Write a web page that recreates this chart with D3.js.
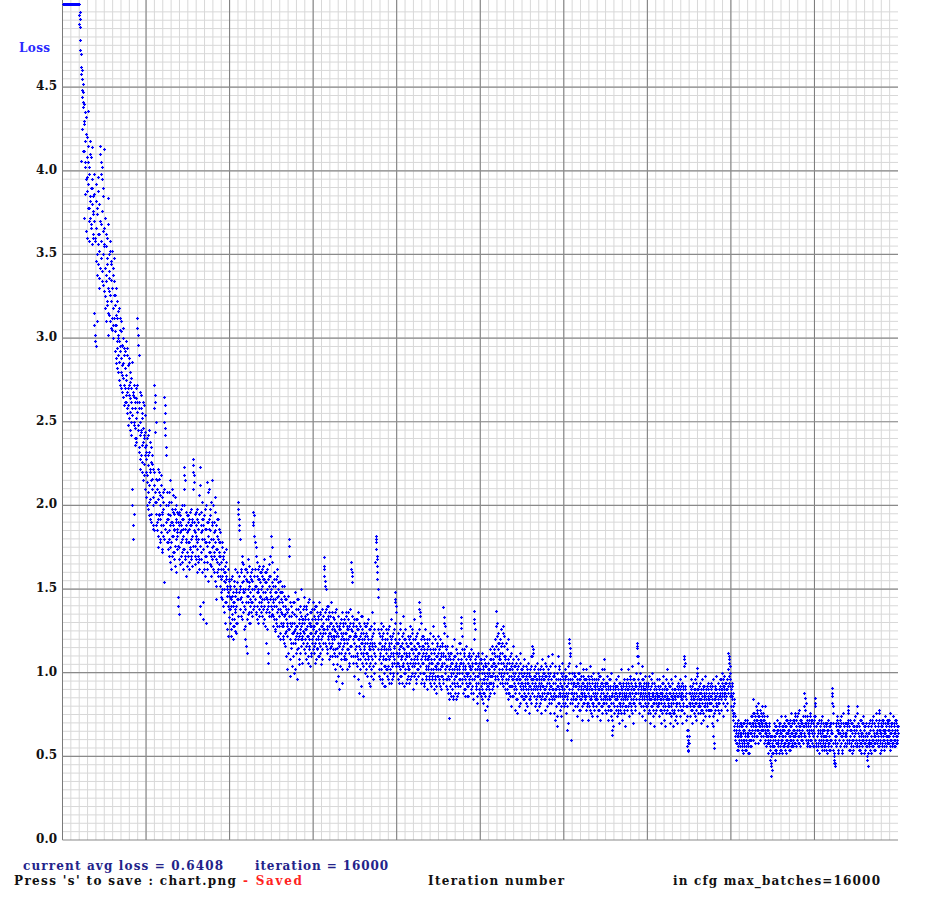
<!DOCTYPE html>
<html><head><meta charset="utf-8">
<script src="https://cdn.jsdelivr.net/npm/d3@7"></script>
<style>html,body{margin:0;padding:0;background:#fff;}svg{display:block;}</style>
</head><body>
<svg id="chart" width="927" height="908"></svg>
<script>
// readings every 8 iterations (lossBlockN) and the ones in between, offset by 4 (lossMidN)
const iterStep = 8, midOffset = 4;
const lossBlock1 = [ // iterations 0 - 1592
9.62,9.41,8.87,9.03,8.55,8.31,8.46,7.92,7.78,7.95,7.41,7.25,7.38,6.94,6.82,7.01,6.63,6.57,6.72,6.31,6.24,6.38,6.05,5.96,6.12,
5.88,5.74,5.91,5.62,5.48,5.55,5.33,5.41,5.22,5.28,5.15,5.19,5.08,5.11,5.03,4.93,4.91,4.78,4.86,4.70,4.62,4.55,4.48,4.52,4.38,
4.41,4.12,4.30,4.02,4.35,4.18,3.95,4.22,4.08,3.88,4.15,3.92,4.05,3.78,3.98,3.85,4.10,3.72,3.90,3.68,3.95,3.80,3.62,3.85,3.74,
3.70,3.15,3.58,3.02,3.82,2.95,3.66,3.50,3.78,3.44,3.62,3.88,3.52,3.36,3.70,4.15,3.48,4.05,3.58,3.95,3.40,3.64,3.85,3.32,3.55,
4.13,3.42,3.25,3.55,3.38,3.62,3.20,3.48,3.30,3.84,3.15,3.40,3.28,3.52,3.10,3.35,3.22,3.46,3.05,3.30,3.18,3.42,3.00,3.26,3.12,
3.20,2.92,3.08,2.85,3.30,2.98,3.12,2.80,3.02,2.90,3.18,2.75,2.95,3.05,2.70,2.88,3.10,2.78,2.95,2.65,2.85,3.00,2.72,2.90,2.62,
2.82,2.98,2.66,2.75,2.55,2.90,2.70,2.60,2.85,2.52,2.72,2.45,2.80,2.62,2.50,2.76,2.58,2.10,1.80,2.68,1.95,2.48,2.65,2.40,2.58,
2.52,2.70,2.38,2.62,3.12,2.45,3.02,2.90,2.35,2.58,2.28,2.50,2.66,2.30,2.45,2.20,2.55,2.38,2.15,2.42,2.60,2.25,2.35,2.10,2.32];
const lossMid1 = [
9.71,9.22,9.35,8.64,8.72,8.18,8.25,7.84,7.60,7.66,7.32,7.48,7.08,7.15,6.88,6.70,6.78,6.45,6.52,6.36,6.18,6.27,5.99,6.08,5.92,
5.81,5.86,5.66,5.52,5.59,5.39,5.36,5.27,5.31,5.18,5.12,5.09,5.06,5.04,5.01,4.88,4.95,4.72,4.06,4.58,4.25,4.44,4.60,4.12,4.47,
4.28,3.72,4.40,3.86,4.05,3.64,4.32,3.96,3.60,4.20,3.78,4.36,3.70,4.02,3.58,4.18,3.82,3.66,4.08,3.56,3.90,4.14,3.60,3.76,3.98,
3.86,3.08,3.60,2.98,3.92,3.46,3.10,3.74,3.38,3.96,3.56,3.30,3.80,3.62,3.42,4.10,3.68,3.98,3.34,4.02,3.76,3.50,3.90,3.28,3.66,
3.56,3.18,3.72,3.34,3.10,3.60,3.44,3.22,3.68,3.02,3.50,3.36,3.14,3.58,3.26,3.06,3.44,3.30,3.52,3.12,3.38,3.08,3.34,3.48,3.04,
3.08,3.26,2.88,3.14,2.94,3.22,2.82,3.00,3.16,2.86,2.98,2.72,3.12,2.92,2.80,3.04,2.68,2.96,2.84,3.06,2.76,2.60,2.94,2.82,2.70,
2.92,2.62,2.78,2.94,2.58,2.68,2.84,2.48,2.66,2.88,2.56,2.74,2.64,2.42,2.70,2.86,2.54,2.00,2.66,1.88,2.50,2.72,2.36,2.62,2.46,
2.64,2.40,2.56,3.06,2.72,2.96,2.48,2.32,2.62,2.42,2.68,2.22,2.44,2.58,2.36,2.52,2.26,2.46,2.62,2.18,2.40,2.54,2.30,2.44,2.20];
const lossBlock2 = [ // iterations 1600 - 3192
2.28,2.05,2.40,2.18,1.98,2.30,2.12,2.45,2.02,2.22,1.92,2.15,2.35,1.95,2.10,2.25,1.88,2.05,2.20,1.85,2.72,2.62,2.08,2.50,1.95,
2.02,1.85,2.15,1.92,1.75,2.08,1.95,2.20,1.80,2.00,1.88,2.12,1.72,1.95,2.05,1.82,1.98,1.54,2.10,2.65,2.55,2.42,1.90,2.35,1.78,
1.92,2.08,1.78,1.95,1.70,2.02,1.85,2.15,1.75,1.90,1.62,1.98,1.82,2.10,1.72,1.88,1.95,1.68,1.85,2.05,1.76,1.92,1.60,1.84,1.96,
1.82,1.95,1.45,1.88,1.35,1.75,1.90,1.65,1.85,1.98,1.72,1.80,1.92,1.62,1.86,1.74,2.00,2.23,1.68,2.15,1.80,1.58,1.84,1.94,1.72,
1.85,1.70,1.92,1.78,1.62,1.88,1.75,1.98,1.68,1.82,1.90,1.72,2.28,2.20,1.85,2.14,1.76,1.95,1.65,1.80,1.88,1.60,1.78,1.92,1.70,
1.80,1.95,1.68,2.23,2.12,1.35,1.88,1.72,2.02,1.60,1.85,1.42,1.92,1.62,1.80,1.98,1.70,1.86,1.30,1.78,1.90,1.66,2.14,1.82,1.55,
1.78,1.92,1.65,1.85,1.98,1.70,1.58,1.88,1.75,2.15,1.62,1.80,1.72,1.90,1.55,2.05,1.85,1.44,1.68,1.82,1.60,1.74,1.92,1.58,1.70,
1.65,1.78,1.52,1.70,1.45,1.62,1.75,1.50,1.58,1.40,1.68,1.55,1.72,1.42,1.60,1.30,1.56,1.66,1.46,1.52,1.22,1.62,1.48,1.33,1.55];
const lossMid2 = [
2.36,2.14,2.00,2.42,2.24,2.08,2.32,1.94,2.20,2.38,2.04,2.26,1.90,2.16,2.30,2.00,2.22,1.86,2.12,2.58,2.66,2.02,2.44,2.16,1.88,
2.10,1.90,2.22,1.82,2.04,1.94,2.16,1.78,2.06,1.92,1.84,2.18,1.96,1.74,2.08,1.88,2.02,1.80,2.50,2.60,2.46,1.86,2.30,2.00,1.84,
1.84,2.00,1.74,1.92,2.08,1.80,1.94,1.66,1.88,2.02,1.78,1.90,1.70,1.96,1.82,2.06,1.72,1.86,1.98,1.64,1.90,1.80,2.00,1.74,1.86,
1.40,1.90,1.76,1.96,1.68,1.84,1.94,1.70,1.88,1.78,2.00,1.66,1.82,1.92,1.74,2.18,2.10,1.86,1.70,1.96,1.78,1.88,1.64,1.84,1.90,
1.78,1.94,1.66,1.86,1.74,1.96,1.70,1.88,1.80,1.64,1.92,2.24,2.10,1.76,2.18,1.90,1.70,1.84,1.96,1.68,1.82,1.74,1.98,1.66,1.86,
1.90,1.62,2.06,1.76,1.40,1.84,1.96,1.68,1.80,1.92,1.32,1.74,1.88,1.66,1.94,1.78,1.58,1.86,1.70,2.00,1.76,1.62,1.90,2.08,1.72,
1.86,2.10,1.72,1.94,1.64,2.02,1.80,1.68,1.90,1.76,2.00,1.60,1.84,1.70,1.96,1.78,1.52,1.88,1.74,1.66,1.92,1.80,1.62,1.78,1.86,
1.72,1.58,1.84,1.48,1.66,1.56,1.78,1.44,1.62,1.70,1.50,1.60,1.36,1.64,1.54,1.74,1.42,1.58,1.26,1.50,1.62,1.40,1.56,1.46,1.38];
const lossBlock3 = [ // iterations 3200 - 4792
1.45,1.30,1.52,1.22,1.40,1.58,1.35,1.48,1.28,1.42,1.55,1.32,1.46,1.25,1.38,1.50,1.30,1.44,1.60,1.34,2.02,1.95,1.48,1.85,1.80,
1.52,1.38,1.62,1.45,1.70,1.32,1.55,1.48,1.65,1.40,1.58,1.28,1.50,1.20,1.62,1.42,1.12,1.55,1.35,1.68,1.46,1.30,1.52,1.40,1.58,
1.48,1.36,1.60,1.42,1.55,1.96,1.38,1.90,1.50,1.82,1.44,1.62,1.75,1.35,1.52,1.66,1.40,1.56,1.30,1.48,1.64,1.38,1.54,1.45,1.60,
1.50,1.36,1.62,1.44,1.56,1.30,1.48,1.68,1.40,1.54,1.28,1.45,1.60,1.18,1.50,1.38,1.06,1.56,1.42,1.65,1.34,1.48,1.58,1.82,1.40,
1.46,1.75,1.35,1.52,1.28,1.44,1.60,1.32,1.48,1.25,1.40,1.56,1.30,1.45,1.62,1.22,1.38,1.50,1.28,1.42,1.55,1.20,1.36,1.48,1.30,
1.35,1.48,1.22,1.40,1.28,1.52,1.18,1.35,1.44,1.25,1.38,1.10,1.30,1.02,1.46,1.26,1.80,1.70,1.34,1.20,0.98,1.40,1.28,1.15,1.36,
1.30,1.18,1.42,1.25,1.00,1.35,1.20,1.48,1.28,1.12,1.38,0.96,1.24,1.44,1.15,1.32,1.22,1.05,1.40,1.26,1.16,1.34,1.50,1.20,1.30,
1.25,1.38,1.14,1.30,1.45,1.20,1.32,1.08,1.26,1.40,1.18,1.35,1.22,1.10,1.30,1.44,1.16,1.28,1.04,1.36,1.24,1.12,1.32,1.20,1.42];
const lossMid3 = [
1.38,1.50,1.26,1.44,1.56,1.32,1.46,1.20,1.40,1.52,1.28,1.42,1.62,1.36,1.48,1.24,1.40,1.54,1.30,1.44,1.98,1.88,1.58,1.92,1.50,
1.44,1.60,1.34,1.54,1.42,1.66,1.36,1.50,1.58,1.26,1.48,1.62,1.38,1.56,1.16,1.46,1.60,1.32,1.50,1.42,1.64,1.36,1.54,1.44,1.30,
1.56,1.42,1.62,1.34,1.50,1.88,1.46,1.94,1.58,1.40,1.78,1.52,1.36,1.70,1.48,1.58,1.32,1.50,1.62,1.42,1.56,1.34,1.46,1.60,1.40,
1.42,1.58,1.34,1.52,1.64,1.38,1.56,1.44,1.32,1.60,1.48,1.36,1.54,1.26,1.44,1.62,1.12,1.40,1.52,1.36,1.58,1.44,1.70,1.50,1.34,
1.54,1.38,1.66,1.42,1.34,1.56,1.40,1.26,1.52,1.44,1.32,1.48,1.58,1.36,1.28,1.46,1.54,1.34,1.42,1.24,1.48,1.38,1.30,1.44,1.52,
1.28,1.42,1.30,1.20,1.46,1.34,1.24,1.40,1.16,1.32,1.44,1.22,1.36,1.28,1.12,1.38,1.76,1.26,1.08,1.30,1.42,1.18,1.34,1.24,1.04,
1.36,1.24,1.10,1.30,1.42,1.18,1.26,1.02,1.34,1.22,1.44,1.14,1.28,1.20,1.38,1.08,1.30,1.24,1.12,1.36,1.20,1.28,1.06,1.32,1.22,
1.32,1.18,1.40,1.24,1.12,1.34,1.26,1.16,1.38,1.22,1.28,1.06,1.32,1.42,1.20,1.14,1.36,1.24,1.30,1.10,1.28,1.38,1.18,1.26,1.14];
const lossBlock4 = [ // iterations 4800 - 6392
1.22,1.34,1.12,1.28,1.40,1.18,1.30,1.08,1.25,1.36,1.15,1.32,1.20,1.42,1.10,1.26,1.35,1.16,1.28,1.05,1.22,1.38,1.14,1.30,1.24,
1.26,1.69,1.62,1.18,1.55,1.50,1.32,1.12,1.28,1.40,1.20,1.34,1.08,1.24,1.36,1.15,1.30,1.22,1.42,1.10,1.26,1.18,1.33,1.05,1.22,
1.20,1.32,1.10,1.25,0.95,1.38,1.15,1.28,1.05,1.22,1.34,1.12,1.26,0.90,1.18,1.30,1.08,1.24,1.36,1.14,1.02,1.28,1.20,1.10,1.32,
1.18,1.30,1.08,1.24,1.36,1.14,1.26,1.02,1.20,1.32,1.12,1.28,1.06,1.22,1.38,1.16,1.66,1.60,1.25,1.54,1.10,1.30,1.18,0.98,1.24,
1.22,1.10,1.32,1.16,1.04,1.26,1.12,1.36,1.08,1.20,0.88,1.28,1.14,1.02,1.24,1.18,1.34,1.06,1.20,0.86,1.12,1.30,1.16,1.00,1.22,
1.18,1.06,1.28,1.12,0.98,1.22,1.10,1.32,1.04,1.16,0.92,1.26,1.14,1.02,1.20,1.36,1.08,1.18,0.96,1.24,1.12,1.30,1.06,1.16,1.10,
1.82,1.78,1.70,1.64,1.56,1.45,1.14,1.02,1.24,1.10,0.96,1.18,1.30,1.06,1.16,0.94,1.22,1.08,1.28,1.00,1.14,1.04,1.20,0.92,1.12,
1.08,1.20,0.98,1.14,1.26,1.04,1.16,0.94,1.10,1.22,1.02,1.18,1.32,1.06,0.96,1.12,1.24,1.00,1.15,1.08,1.48,1.42,1.20,1.36,1.04];
const lossMid4 = [
1.28,1.16,1.38,1.24,1.06,1.32,1.20,1.40,1.14,1.30,1.22,1.10,1.34,1.26,1.18,1.36,1.12,1.24,1.32,1.20,1.08,1.28,1.34,1.18,1.26,
1.64,1.58,1.36,1.52,1.24,1.16,1.38,1.26,1.14,1.32,1.22,1.40,1.18,1.28,1.10,1.34,1.24,1.16,1.30,1.20,1.36,1.14,1.28,1.22,1.12,
1.26,1.14,1.36,1.02,1.22,1.30,1.10,1.24,1.34,0.98,1.18,1.28,1.16,1.04,1.26,1.20,1.32,1.12,1.22,0.94,1.16,1.30,1.24,1.08,1.20,
1.24,1.12,1.34,1.20,1.08,1.28,1.18,1.36,1.14,1.26,1.04,1.22,1.30,1.16,1.26,1.10,1.62,1.34,1.58,1.20,1.28,1.06,1.22,1.32,1.14,
1.14,1.28,1.06,1.22,1.32,1.10,1.20,0.96,1.26,1.16,1.30,1.08,1.22,1.12,1.34,0.92,1.18,1.26,1.10,1.24,1.04,1.20,1.14,1.28,1.08,
1.12,1.24,1.02,1.18,1.30,1.08,1.20,0.94,1.14,1.26,1.06,1.18,1.10,1.28,0.98,1.16,1.22,1.04,1.14,1.26,1.00,1.18,1.10,1.66,1.80,
1.80,1.74,1.68,1.60,1.50,1.26,1.08,1.18,0.98,1.22,1.12,1.02,1.26,1.14,0.96,1.20,1.10,1.24,1.04,1.16,0.92,1.18,1.08,1.26,1.02,
1.14,1.02,1.24,1.10,0.96,1.18,1.08,1.28,1.00,1.14,1.20,0.94,1.12,1.04,1.22,1.10,0.98,1.16,1.26,1.06,1.44,1.30,1.12,1.40,1.18];
const lossBlock5 = [ // iterations 6400 - 7992
1.12,1.00,1.24,1.06,1.18,0.94,1.14,1.30,1.02,1.16,1.08,0.98,1.22,1.10,1.34,1.04,1.15,0.92,1.20,1.08,1.26,1.00,1.12,1.18,0.96,
1.10,1.22,1.02,1.16,0.94,1.12,1.28,1.06,1.18,0.98,1.14,1.24,1.04,1.12,0.90,1.20,1.08,1.32,1.00,1.14,1.06,1.22,0.96,1.10,1.18,
1.06,1.18,0.98,1.12,1.42,1.36,1.04,1.30,1.14,0.94,1.10,1.22,1.00,1.16,1.06,0.92,1.20,1.08,1.26,0.98,1.12,1.02,1.18,0.90,1.08,
1.04,1.16,0.96,1.10,1.24,1.00,1.12,0.92,1.06,1.18,0.98,1.14,1.28,1.02,0.90,1.08,1.20,0.96,1.10,1.04,0.88,1.16,1.06,1.22,0.98,
1.02,1.14,0.94,1.08,1.20,0.98,1.10,0.90,1.04,1.16,0.96,1.12,1.39,1.33,1.06,1.28,1.00,0.92,1.14,1.04,1.22,0.96,1.08,0.88,1.10,
0.73,1.02,1.12,0.92,1.06,0.86,1.00,1.16,0.94,1.08,0.84,1.02,1.20,0.96,1.10,0.88,1.04,0.98,1.14,0.86,1.00,1.08,0.92,1.18,1.02,
1.00,1.12,0.92,1.06,1.33,1.27,0.96,1.22,1.04,0.88,1.10,0.98,1.14,0.90,1.02,1.08,0.94,1.16,0.86,1.00,1.10,0.92,1.04,0.96,1.12,
0.98,1.08,0.88,1.02,1.14,0.92,1.04,0.84,1.00,1.37,1.30,0.96,1.26,1.06,0.90,1.10,0.94,1.02,0.82,1.12,0.98,1.06,0.88,1.00,1.08];
const lossMid5 = [
1.06,1.18,1.10,0.96,1.20,1.04,1.12,1.26,0.98,1.10,1.16,1.04,0.94,1.18,1.06,1.24,1.12,1.00,1.14,1.02,1.20,1.10,0.94,1.16,1.06,
1.16,1.04,0.98,1.20,1.10,1.02,1.22,0.96,1.08,1.18,1.00,1.14,1.26,1.06,1.12,0.98,1.16,1.04,1.20,1.10,0.94,1.14,1.02,1.24,1.08,
1.12,1.02,1.26,1.38,1.16,1.34,1.00,1.20,1.08,1.16,0.96,1.06,1.22,1.12,1.00,1.14,0.94,1.10,1.18,1.04,0.96,1.14,1.08,1.20,1.02,
1.10,0.98,1.20,1.06,0.94,1.14,1.02,1.08,1.18,0.96,1.06,1.00,1.22,0.94,1.12,1.04,0.98,1.14,1.02,0.92,1.10,1.18,0.98,1.06,1.12,
1.08,0.96,1.16,1.02,0.92,1.12,1.04,0.98,1.18,1.06,0.94,1.10,1.30,1.24,1.16,1.02,1.10,0.96,1.08,1.16,0.90,1.04,1.12,0.98,0.84,
0.96,1.08,0.88,1.04,0.98,1.12,0.90,1.02,1.06,0.86,1.00,0.94,1.10,0.92,1.04,0.98,0.84,1.06,1.12,0.94,1.02,0.88,1.08,0.96,1.04,
1.06,0.96,1.18,1.30,1.08,1.00,1.14,0.94,1.02,1.06,0.90,1.12,0.96,1.04,0.86,1.00,1.08,0.98,0.92,1.06,1.00,0.86,1.10,0.94,1.02,
1.04,0.94,1.10,0.90,1.06,0.96,1.00,0.88,1.12,1.32,1.20,1.08,0.98,1.02,0.92,1.06,0.98,0.86,1.04,0.94,1.10,0.90,1.02,0.96,0.88];
const lossBlock6 = [ // iterations 8000 - 9592
0.96,1.06,0.86,1.00,1.12,0.90,1.02,0.82,0.96,1.08,0.88,1.04,0.78,0.94,1.10,0.92,1.00,0.72,0.98,1.06,0.86,1.02,0.90,1.14,0.94,
0.98,1.08,0.90,1.04,1.16,0.94,1.06,0.88,1.02,1.12,0.96,1.20,1.37,1.04,1.30,1.10,0.92,1.14,1.24,1.00,1.08,1.18,0.94,1.12,1.26,
1.06,0.96,1.18,1.02,1.28,0.92,1.10,1.00,1.22,0.94,1.08,0.88,1.04,1.14,0.90,1.00,1.20,0.84,0.98,1.06,0.88,1.02,0.92,1.12,0.80,
0.96,1.06,0.86,1.00,1.16,0.90,0.98,0.78,1.04,0.92,1.10,0.84,0.96,1.02,0.76,0.94,1.08,0.88,1.00,0.82,0.96,1.12,0.90,1.00,0.86,
0.94,1.02,0.84,0.98,1.08,0.88,0.96,0.78,0.92,1.04,0.86,1.00,0.80,0.94,1.06,0.90,0.98,0.76,0.92,1.02,0.84,0.96,1.10,0.88,0.94,
1.16,0.96,1.12,0.86,0.98,0.80,0.94,1.04,0.84,0.96,0.90,1.06,0.78,0.92,1.00,0.86,0.96,0.82,1.02,0.90,0.76,0.94,1.08,0.88,0.98,
0.92,1.02,0.84,0.96,0.78,0.90,1.06,0.86,0.98,0.80,0.94,1.00,0.88,1.10,0.82,0.94,0.76,0.92,1.04,0.86,0.96,1.11,0.84,0.98,0.90,
0.94,0.84,1.00,0.72,0.90,1.04,0.86,0.96,0.68,0.92,1.10,0.82,0.96,0.88,1.02,0.78,0.94,0.86,1.00,0.74,0.92,1.06,0.84,0.96,0.88];
const lossMid6 = [
1.02,0.92,1.08,0.94,0.84,1.04,0.96,0.88,1.00,0.94,1.06,0.86,0.98,0.90,1.04,0.80,0.96,1.02,0.92,0.84,1.00,0.94,1.08,0.88,0.98,
1.04,0.94,1.12,0.98,1.08,1.00,0.92,1.14,1.06,0.98,1.10,1.04,1.28,1.16,1.22,0.98,1.06,1.18,0.96,1.10,1.02,1.20,1.08,0.98,1.16,
1.00,1.12,0.94,1.24,1.06,0.98,1.16,1.04,0.90,1.10,0.96,1.02,1.18,0.94,1.06,0.88,1.08,0.96,1.02,0.92,1.10,0.86,0.98,1.04,0.92,
1.02,0.92,1.08,0.96,0.86,1.04,0.94,1.00,0.88,1.06,0.96,0.90,1.02,0.84,0.98,0.94,1.04,0.80,0.96,1.06,0.92,0.86,1.02,0.94,0.98,
0.98,0.90,1.04,0.92,0.84,1.00,0.94,0.86,0.98,0.90,0.82,0.96,1.02,0.88,0.94,0.84,1.00,0.92,0.86,0.98,0.90,1.04,0.82,0.96,1.10,
1.14,0.90,1.02,0.92,0.86,0.98,0.90,0.82,1.00,0.92,0.86,0.96,1.02,0.88,0.94,0.80,0.98,0.92,0.86,0.96,1.04,0.84,0.92,0.86,1.00,
0.96,0.88,1.00,0.90,0.84,0.98,0.92,1.04,0.86,0.94,0.88,0.96,1.02,0.90,0.84,0.98,0.88,1.00,0.92,0.82,0.96,1.06,0.90,0.94,0.86,
0.88,0.98,0.76,0.94,0.86,0.96,0.80,0.90,1.00,0.74,0.92,0.86,1.04,0.90,0.82,0.96,0.88,0.92,0.80,0.98,0.86,0.90,1.00,0.82,0.94];
const lossBlock7 = [ // iterations 9600 - 11192
0.90,0.80,0.98,0.86,1.02,0.76,0.92,0.84,0.66,0.96,0.88,1.04,1.20,0.90,1.15,1.10,0.82,0.94,0.60,0.88,1.00,0.78,0.92,0.84,0.98,
0.88,0.98,0.80,0.92,1.04,0.84,0.94,0.74,0.90,1.00,0.82,0.96,0.86,1.06,0.78,0.90,0.84,0.98,0.72,0.88,1.02,0.82,0.94,0.86,0.96,
0.86,0.96,0.78,0.90,1.02,0.82,0.92,0.72,0.88,0.98,0.80,0.94,0.84,1.04,0.76,0.90,0.86,0.96,0.74,0.88,1.00,0.82,0.92,0.78,0.94,
0.88,0.80,0.96,0.84,0.74,0.92,1.00,0.78,0.90,0.82,0.98,0.72,0.86,0.94,0.80,0.90,1.02,0.76,0.88,0.84,0.96,1.08,0.82,0.92,0.78,
0.86,0.94,0.76,0.88,0.98,0.80,0.90,0.72,0.84,0.96,0.78,0.92,0.82,1.00,0.74,0.63,0.86,0.68,0.90,0.80,0.94,0.76,0.88,0.84,0.96,
0.84,0.92,0.74,0.86,0.98,0.78,0.88,0.70,0.82,0.94,0.80,0.90,1.02,0.76,0.86,0.72,0.92,0.84,0.96,0.78,0.88,0.68,0.86,0.94,0.80,
0.86,0.96,0.78,0.90,1.02,0.82,0.92,0.74,0.88,0.98,0.80,0.94,0.84,1.04,0.76,0.90,0.70,0.86,0.96,0.82,0.92,0.78,1.00,0.88,0.84,
1.18,1.15,0.90,1.10,0.82,0.94,0.76,0.88,1.00,0.80,0.92,0.86,1.04,0.74,0.88,0.96,0.78,0.90,0.84,0.98,0.72,0.86,0.94,0.80,0.90];
const lossMid7 = [
0.86,0.94,0.82,0.96,0.88,0.98,0.80,0.92,0.86,0.70,0.94,1.00,1.18,1.06,0.96,1.12,0.88,0.84,0.96,0.90,0.82,0.94,0.86,1.00,0.88,
0.94,0.84,0.98,0.88,0.92,0.80,0.96,0.86,0.90,0.94,0.78,0.92,1.00,0.84,0.96,0.88,0.92,0.80,0.94,0.86,0.98,0.90,0.82,0.92,0.88,
0.92,0.84,0.96,0.86,0.90,0.80,0.94,0.88,0.82,0.96,0.86,0.90,0.78,0.92,0.98,0.84,0.90,0.82,0.94,0.88,0.80,0.96,0.86,0.90,0.84,
0.92,0.86,0.80,0.94,0.88,0.84,0.96,0.82,0.90,0.78,0.92,0.86,0.98,0.84,0.88,0.80,0.94,0.90,0.82,0.92,0.86,1.02,0.94,0.86,0.84,
0.90,0.82,0.94,0.84,0.88,0.78,0.92,0.86,0.80,0.90,0.84,0.96,0.86,0.78,0.66,0.88,0.72,0.82,0.92,0.86,0.80,0.90,0.84,0.92,0.78,
0.88,0.80,0.92,0.84,0.90,0.76,0.86,0.94,0.82,0.88,0.78,0.92,0.84,0.90,0.80,0.88,0.94,0.82,0.86,0.76,0.90,0.84,0.80,0.88,0.92,
0.90,0.84,0.94,0.86,0.80,0.92,0.88,0.82,0.96,0.86,0.90,0.78,0.92,0.88,0.84,0.96,0.82,0.90,0.86,0.94,0.80,0.88,0.92,0.84,1.10,
1.16,1.06,0.96,0.88,0.84,0.92,0.86,0.94,0.82,0.90,0.88,0.96,0.84,0.90,0.80,0.92,0.86,0.94,0.82,0.88,0.90,0.80,0.92,0.86,0.84];
const lossBlock8 = [ // iterations 11200 - 12792
0.84,0.94,0.76,0.88,0.98,0.78,0.90,0.70,0.84,0.96,0.80,0.88,1.00,0.74,0.86,0.82,0.94,0.68,0.84,0.92,0.78,0.88,0.96,0.80,0.86,
0.82,0.92,0.74,0.86,0.96,0.78,0.88,0.70,0.84,0.94,0.76,0.88,0.80,0.98,0.72,0.86,0.82,0.92,0.68,0.84,0.96,0.78,0.90,1.02,0.80,
0.84,0.76,0.92,0.80,0.70,0.88,0.96,0.74,0.86,0.78,0.94,0.68,0.84,0.90,0.76,0.86,0.98,0.72,0.82,0.80,0.92,0.70,0.86,0.94,0.78,
0.82,0.92,0.74,0.86,0.96,0.78,0.88,0.70,0.84,0.94,0.80,0.90,0.76,1.10,1.06,0.86,0.98,0.72,0.84,0.80,0.66,0.56,0.60,0.53,0.88,
0.62,0.82,0.92,0.74,0.86,0.96,0.78,0.88,0.70,0.84,0.94,0.80,0.90,0.74,0.86,0.96,0.82,0.72,1.03,0.98,0.84,0.76,0.90,0.80,0.88,
0.84,0.94,0.76,0.88,0.70,0.82,0.96,0.78,0.90,0.72,0.86,0.92,0.80,0.98,0.74,0.84,0.88,0.68,0.82,0.94,0.78,0.90,0.84,0.74,0.92,
0.86,0.78,0.94,0.82,0.70,0.88,0.96,0.74,0.62,0.55,0.84,0.90,0.78,0.86,0.98,0.80,0.88,0.72,0.84,0.94,0.82,0.90,0.76,0.86,0.96,
0.86,0.96,0.78,0.90,1.00,0.82,0.92,0.74,0.88,0.98,0.84,0.94,0.80,0.90,0.86,0.96,0.78,0.92,0.88,1.12,1.08,0.94,1.04,1.00,0.86];
const lossMid8 = [
0.88,0.82,0.92,0.84,0.86,0.76,0.90,0.84,0.80,0.92,0.86,0.94,0.82,0.88,0.78,0.90,0.84,0.76,0.92,0.86,0.82,0.90,0.84,0.88,0.80,
0.86,0.80,0.90,0.82,0.92,0.84,0.78,0.88,0.82,0.86,0.90,0.80,0.94,0.84,0.78,0.90,0.86,0.80,0.88,0.76,0.90,0.84,0.86,0.94,0.82,
0.80,0.88,0.84,0.76,0.92,0.82,0.86,0.80,0.90,0.84,0.76,0.88,0.82,0.86,0.78,0.90,0.84,0.80,0.88,0.74,0.86,0.82,0.90,0.78,0.86,
0.88,0.82,0.90,0.80,0.86,0.92,0.84,0.78,0.88,0.86,0.92,0.82,1.04,1.08,0.92,0.90,0.80,0.88,0.84,0.74,0.62,0.58,0.54,0.66,0.82,
0.58,0.88,0.80,0.90,0.84,0.78,0.92,0.82,0.86,0.80,0.88,0.84,0.76,0.90,0.82,0.88,0.78,0.94,1.00,0.90,0.80,0.86,0.82,0.92,0.84,
0.80,0.88,0.84,0.78,0.90,0.86,0.82,0.76,0.92,0.84,0.80,0.88,0.86,0.82,0.90,0.78,0.84,0.80,0.92,0.86,0.84,0.78,0.88,0.82,0.86,
0.82,0.90,0.86,0.78,0.92,0.84,0.80,0.68,0.58,0.76,0.88,0.84,0.92,0.82,0.86,0.90,0.80,0.88,0.84,0.78,0.90,0.86,0.82,0.92,0.88,
0.90,0.84,0.94,0.86,0.88,0.96,0.82,0.90,0.86,0.92,0.88,0.84,0.94,0.86,0.90,0.82,0.96,0.88,1.02,1.10,0.98,1.06,0.92,0.96,0.88];
const lossBlock9 = [ // iterations 12800 - 14392
0.90,0.80,0.94,0.84,0.72,0.88,0.76,0.66,0.82,0.70,0.60,0.74,0.64,0.48,0.68,0.58,0.72,0.62,0.54,0.66,0.60,0.70,0.56,0.64,0.68,
0.62,0.56,0.68,0.60,0.52,0.66,0.58,0.70,0.54,0.64,0.60,0.68,0.56,0.62,0.72,0.58,0.64,0.52,0.66,0.60,0.70,0.56,0.64,0.74,0.60,
0.66,0.74,0.60,0.70,0.84,0.64,0.76,0.58,0.68,0.80,0.62,0.72,0.66,0.78,0.58,0.70,0.82,0.64,0.74,0.60,0.68,0.76,0.62,0.72,0.80,
0.70,0.62,0.76,0.66,0.58,0.72,0.80,0.64,0.68,0.56,0.70,0.62,0.74,0.58,0.66,0.52,0.64,0.70,0.56,0.48,0.44,0.62,0.38,0.42,0.58,
0.60,0.52,0.66,0.56,0.70,0.48,0.62,0.58,0.68,0.54,0.64,0.72,0.58,0.66,0.52,0.62,0.70,0.56,0.64,0.60,0.74,0.54,0.66,0.60,0.68,
0.62,0.70,0.56,0.66,0.74,0.58,0.64,0.52,0.68,0.60,0.72,0.56,0.64,0.70,0.58,0.66,0.54,0.62,0.76,0.60,0.68,0.56,0.64,0.72,0.60,
0.66,0.58,0.72,0.62,0.76,0.56,0.68,0.64,0.74,0.60,0.70,0.58,0.66,0.78,0.62,0.68,0.56,0.72,0.64,0.60,0.70,0.66,0.58,0.74,0.62,
0.68,0.88,0.85,0.62,0.82,0.70,0.58,0.66,0.74,0.60,0.68,0.56,0.72,0.64,0.76,0.60,0.66,0.70,0.58,0.64,0.72,0.62,0.56,0.68,0.74];
const lossMid9 = [
0.86,0.92,0.78,0.86,0.80,0.74,0.84,0.68,0.76,0.62,0.70,0.58,0.66,0.54,0.62,0.70,0.56,0.64,0.60,0.68,0.58,0.64,0.62,0.70,0.60,
0.58,0.68,0.54,0.64,0.70,0.56,0.66,0.60,0.72,0.62,0.54,0.68,0.58,0.64,0.70,0.56,0.62,0.66,0.52,0.70,0.60,0.64,0.56,0.68,0.62,
0.70,0.66,0.76,0.68,0.72,0.62,0.70,0.74,0.66,0.72,0.68,0.76,0.62,0.72,0.66,0.74,0.70,0.68,0.64,0.72,0.78,0.66,0.70,0.68,0.74,
0.66,0.72,0.62,0.68,0.74,0.60,0.66,0.70,0.62,0.64,0.68,0.58,0.66,0.62,0.60,0.68,0.58,0.62,0.54,0.60,0.50,0.46,0.56,0.52,0.62,
0.56,0.66,0.62,0.70,0.54,0.60,0.68,0.64,0.52,0.66,0.58,0.72,0.60,0.56,0.68,0.62,0.54,0.66,0.70,0.58,0.64,0.52,0.68,0.62,0.56,
0.66,0.58,0.70,0.62,0.54,0.68,0.60,0.72,0.56,0.64,0.70,0.58,0.66,0.54,0.62,0.72,0.60,0.68,0.56,0.64,0.70,0.58,0.66,0.62,0.56,
0.62,0.70,0.58,0.74,0.64,0.56,0.72,0.66,0.60,0.70,0.62,0.76,0.58,0.68,0.64,0.56,0.72,0.62,0.70,0.60,0.66,0.74,0.58,0.68,0.64,
0.80,0.78,0.70,0.74,0.60,0.68,0.56,0.72,0.64,0.58,0.70,0.66,0.62,0.74,0.56,0.68,0.60,0.72,0.64,0.58,0.70,0.62,0.66,0.56,0.72];
const lossBlock10 = [ // iterations 14400 - 15992
0.64,0.85,0.80,0.58,0.68,0.54,0.62,0.70,0.56,0.64,0.60,0.72,0.52,0.66,0.58,0.62,0.70,0.56,0.64,0.74,0.60,0.66,0.54,0.62,0.68,
0.62,0.56,0.70,0.60,0.66,0.52,0.64,0.72,0.58,0.68,0.54,0.62,0.70,0.60,0.66,0.56,0.91,0.86,0.64,0.80,0.58,0.50,0.46,0.60,0.44,
0.62,0.70,0.56,0.66,0.74,0.58,0.64,0.52,0.68,0.60,0.72,0.56,0.64,0.70,0.58,0.66,0.54,0.62,0.76,0.60,0.68,0.56,0.64,0.70,0.58,
0.64,0.56,0.70,0.60,0.66,0.80,0.76,0.58,0.68,0.54,0.62,0.72,0.58,0.66,0.52,0.64,0.70,0.60,0.56,0.68,0.62,0.74,0.58,0.64,0.66,
0.60,0.68,0.80,0.56,0.64,0.70,0.54,0.62,0.72,0.58,0.66,0.52,0.64,0.60,0.70,0.56,0.62,0.74,0.58,0.66,0.54,0.62,0.68,0.60,0.56,
0.62,0.50,0.44,0.58,0.68,0.56,0.64,0.72,0.58,0.66,0.52,0.62,0.70,0.60,0.56,0.66,0.74,0.58,0.64,0.54,0.68,0.62,0.76,0.60,0.66,
0.64,0.56,0.70,0.60,0.66,0.78,0.58,0.64,0.52,0.68,0.62,0.72,0.56,0.66,0.60,0.70,0.54,0.64,0.74,0.58,0.66,0.62,0.56,0.70,0.60,
0.66,0.58,0.72,0.62,0.68,0.54,0.64,0.76,0.60,0.70,0.56,0.66,0.62,0.74,0.58,0.64,0.70,0.56,0.66,0.60,0.72,0.62,0.58,0.68,0.64];
const lossMid10 = [
0.82,0.74,0.60,0.56,0.68,0.62,0.54,0.70,0.58,0.66,0.60,0.52,0.68,0.64,0.56,0.72,0.60,0.66,0.54,0.70,0.62,0.58,0.66,0.56,0.70,
0.58,0.68,0.62,0.54,0.70,0.60,0.66,0.56,0.72,0.62,0.58,0.68,0.54,0.64,0.70,0.60,0.88,0.82,0.76,0.70,0.54,0.48,0.52,0.46,0.58,
0.56,0.68,0.62,0.72,0.58,0.66,0.54,0.70,0.60,0.64,0.56,0.68,0.62,0.74,0.58,0.66,0.52,0.70,0.60,0.64,0.56,0.68,0.62,0.58,0.70,
0.62,0.56,0.68,0.58,0.72,0.78,0.70,0.60,0.54,0.66,0.62,0.58,0.70,0.56,0.64,0.60,0.68,0.54,0.66,0.62,0.72,0.58,0.64,0.68,0.56,
0.66,0.76,0.58,0.64,0.70,0.56,0.68,0.60,0.54,0.66,0.62,0.72,0.58,0.64,0.56,0.70,0.60,0.66,0.52,0.68,0.62,0.58,0.70,0.64,0.56,
0.56,0.48,0.52,0.64,0.58,0.70,0.60,0.66,0.54,0.68,0.62,0.58,0.72,0.56,0.66,0.60,0.70,0.62,0.54,0.68,0.58,0.64,0.72,0.60,0.66,
0.58,0.68,0.62,0.72,0.76,0.56,0.66,0.60,0.70,0.54,0.64,0.68,0.58,0.72,0.62,0.56,0.66,0.60,0.70,0.64,0.56,0.68,0.62,0.72,0.58,
0.62,0.70,0.58,0.66,0.72,0.60,0.56,0.68,0.64,0.70,0.58,0.66,0.62,0.74,0.56,0.68,0.60,0.72,0.64,0.58,0.70,0.62,0.66,0.60,0.68];

const xTickValues = [0,1600,3200,4800,6400,8000,9600,11200,12800,14400,16000];
const xTickLabels = ["0","1600","3200","4800","6400","8000","9600","11200","12800","14400","16000"];
const yTickValues = [0,0.5,1,1.5,2,2.5,3,3.5,4,4.5];
const yTickLabels = ["0.0","0.5","1.0","1.5","2.0","2.5","3.0","3.5","4.0","4.5"];
const maxBatches = 16000, maxLoss = 5;
const avgLossText = "current avg loss = 0.6408";
const iterText = "iteration = 16000";

const mainReadings = [].concat(lossBlock1,lossBlock2,lossBlock3,lossBlock4,lossBlock5,
  lossBlock6,lossBlock7,lossBlock8,lossBlock9,lossBlock10);
const midReadings = [].concat(lossMid1,lossMid2,lossMid3,lossMid4,lossMid5,
  lossMid6,lossMid7,lossMid8,lossMid9,lossMid10);
const points = mainReadings.map((l, i) => ({iter: i * iterStep, loss: l}))
  .concat(midReadings.map((l, i) => ({iter: i * iterStep + midOffset, loss: l})));

const FONT = "'DejaVu Serif', serif";
const svg = d3.select("#chart");
svg.append("rect").attr("width",927).attr("height",908).attr("fill","#fff");

const x = d3.scaleLinear().domain([0, maxBatches]).range([62.5, 898]);
const y = d3.scaleLinear().domain([0, maxLoss]).range([840, 3.5]);

// fine grid: 100 divisions each way
const minorX = d3.range(1, 100).map(i => i * maxBatches / 100);
const minorY = d3.range(1, 100).map(i => i * maxLoss / 100);
const grid = svg.append("g");
grid.selectAll(".mx").data(minorX).join("line")
  .attr("x1", d => x(d)).attr("x2", d => x(d)).attr("y1", 0).attr("y2", y(0))
  .attr("stroke", "#d8d8d8").attr("stroke-width", 1);
grid.selectAll(".my").data(minorY).join("line")
  .attr("x1", x(0)).attr("x2", x(maxBatches)).attr("y1", d => y(d)).attr("y2", d => y(d))
  .attr("stroke", "#d8d8d8").attr("stroke-width", 1);
grid.selectAll(".Mx").data(xTickValues.filter(v => v < maxBatches)).join("line")
  .attr("x1", d => x(d)).attr("x2", d => x(d)).attr("y1", 0).attr("y2", y(0))
  .attr("stroke", "#7a7a7a").attr("stroke-width", 1);
grid.selectAll(".My").data(yTickValues).join("line")
  .attr("x1", x(0)).attr("x2", x(maxBatches)).attr("y1", d => y(d)).attr("y2", d => y(d))
  .attr("stroke", "#8a8a8a").attr("stroke-width", 1.2);

// axes (labels only)
svg.append("clipPath").attr("id","lblclip").append("rect")
  .attr("x",0).attr("y",0).attr("width",899).attr("height",908);
const gx = svg.append("g").attr("clip-path","url(#lblclip)")
  .attr("transform","translate(0,857)")
  .call(d3.axisBottom(x).tickValues(xTickValues).tickFormat((d,i)=>xTickLabels[i]).tickSize(0).tickPadding(0));
gx.select(".domain").remove();
gx.attr("font-family", FONT).attr("font-size", 12).attr("font-weight","bold");
gx.selectAll("text").attr("text-anchor","start").attr("dx",-16.5).attr("dy",0).attr("y",0).attr("fill","#111");

const gy = svg.append("g").attr("transform","translate(57,0)")
  .call(d3.axisLeft(y).tickValues(yTickValues).tickFormat((d,i)=>yTickLabels[i]).tickSize(0).tickPadding(0));
gy.select(".domain").remove();
gy.attr("font-family", FONT).attr("font-size", 12).attr("font-weight","bold");
gy.selectAll("text").attr("text-anchor","end").attr("x",0).attr("dy",2.5).attr("fill","#111");

// loss points: small crosses, clamped at the top edge
let d = "";
points.forEach(p => {
  const px = Math.round(x(p.iter));
  const py = Math.round(y(Math.min(p.loss, maxLoss)));
  d += `M${px-1},${py+0.5}h3M${px+0.5},${py-1}v3`;
});
svg.append("path").attr("d", d).attr("fill","none").attr("stroke","#0000ff").attr("stroke-width",1.2);

// texts
function txt(s, tx, ty, color, width) {
  const t = svg.append("text").attr("x", tx).attr("y", ty).text(s)
    .attr("font-family", FONT).attr("font-size", 12).attr("font-weight","bold")
    .attr("fill", color);
  if (width) t.attr("textLength", width).attr("lengthAdjust", "spacing");
  return t;
}
txt("Loss", 19, 52, "#2a2aff", 31);
txt(avgLossText, 23, 870, "#23238a", 200);
txt(iterText, 255, 870, "#23238a", 133);
txt("Press 's' to save : chart.png", 14, 885, "#111", 222);
txt("- Saved", 243, 885, "#ff2222", 59);
txt("Iteration number", 428, 885, "#111", 136);
txt("in cfg max_batches=16000", 673, 885, "#111", 207);
</script>
</body></html>
